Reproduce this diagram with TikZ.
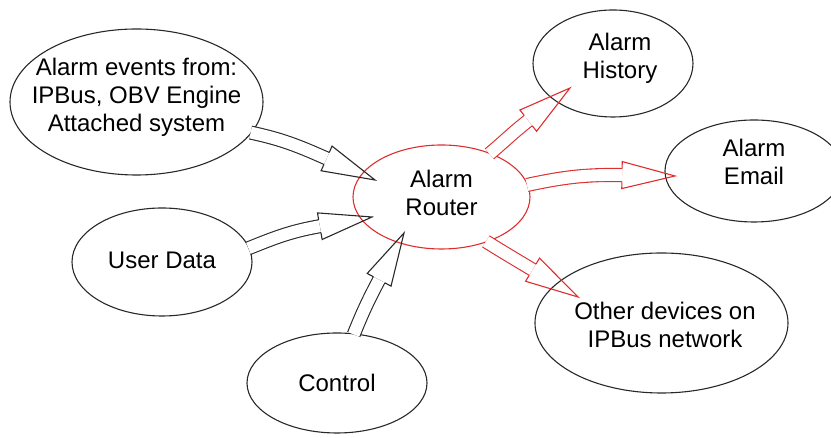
\documentclass[tikz,border=0pt]{standalone}
\usepackage{fontspec}
\setmainfont{Liberation Sans}
\usetikzlibrary{shapes.geometric,calc}

\definecolor{outline}{RGB}{40,40,40}
\definecolor{routerred}{RGB}{222,45,45}

% hollow block arrow: colour, source node, source angle, out angle, tip, tip angle
\newcommand\blockarrow[6]{%
  \pgfmathsetmacro\backang{#6+180}%
  \coordinate (hb) at ($(#5)+(\backang:53)$);
  \draw[pipe, draw=#1] ($(#2.#3)!1.2pt!(#2.center)$) to[out=#4, in=\backang] (hb);
  \draw[head, draw=#1] ($(hb)+(#6+90:6.5)$) -- ($(hb)+(#6+90:13.5)$) -- (#5)
    -- ($(hb)+(#6-90:13.5)$) -- ($(hb)+(#6-90:6.5)$);
}

\begin{document}
\begin{tikzpicture}[x=1pt, y=1pt,
    font=\fontsize{24}{28}\selectfont,
    bubble/.style={ellipse, draw=outline, line width=1.1pt, inner sep=0pt},
    hub/.style={bubble, draw=routerred},
    caption/.style={align=center, inner sep=0pt},
    pipe/.style={line width=1.1pt, double=white, double distance=11.9pt},
    head/.style={line width=1.1pt, line join=miter}]
  \useasboundingbox (0,0) rectangle (831,438);

  % sources on the left, the router in the middle, sinks on the right
  \node[bubble, minimum width=253pt, minimum height=146pt] (events) at (136.5,336) {};
  \node[bubble, minimum width=180pt, minimum height=108pt] (user) at (162,176) {};
  \node[bubble, minimum width=180pt, minimum height=100pt] (control) at (337,55) {};
  \node[hub, minimum width=177pt, minimum height=104pt] (router) at (441.5,241) {};
  \node[bubble, minimum width=160pt, minimum height=107pt] (history) at (613,374.5) {};
  \node[bubble, minimum width=178pt, minimum height=102pt] (email) at (754,267) {};
  \node[bubble, minimum width=253pt, minimum height=140pt] (network) at (661.5,115) {};

  % where the arrow tips land
  \coordinate (ev-tip) at ($(router.center)+(-66.5,17)$);
  \coordinate (ud-tip) at ($(router.center)+(-69.5,-20)$);
  \coordinate (ctl-tip) at ($(router.center)+(-37.5,-36)$);
  \coordinate (hist-tip) at ($(history.center)+(-43,-24.5)$);
  \coordinate (mail-tip) at ($(email.center)+(-79,-5)$);
  \coordinate (net-tip) at ($(network.center)+(-83.5,26)$);

  \blockarrow{outline}{events}{-15}{-12}{ev-tip}{-24}
  \blockarrow{outline}{user}{9}{22}{ud-tip}{10}
  \blockarrow{outline}{control}{71}{68}{ctl-tip}{62}
  \blockarrow{routerred}{router}{42}{40}{hist-tip}{38}
  \blockarrow{routerred}{router}{8}{12}{mail-tip}{-1}
  \blockarrow{routerred}{router}{-45}{-32}{net-tip}{-31}

  \node[caption] (events-txt) at ([yshift=5pt]events.center) {Alarm events from:\\IPBus, OBV Engine\\Attached system};
  \node[caption] (user-txt) at ([yshift=2pt]user.center) {User Data};
  \node[caption] (control-txt) at (control.center) {Control};
  \node[caption] (router-txt) at ([yshift=4pt]router.center) {Alarm\\Router};
  \node[caption] (history-txt) at ([shift={(7pt,5pt)}]history.center) {Alarm\\History};
  \node[caption] (email-txt) at ([yshift=9pt]email.center) {Alarm\\Email};
  \node[caption] (network-txt) at ([shift={(3.5pt,-2pt)}]network.center) {Other devices on\\IPBus network};
\end{tikzpicture}
\end{document}
